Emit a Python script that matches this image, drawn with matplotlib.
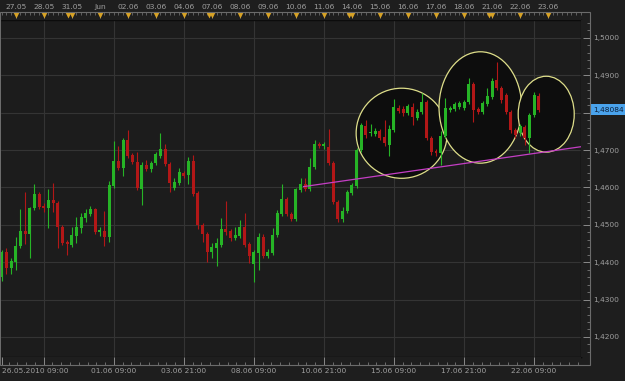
import matplotlib
matplotlib.use('Agg')
import matplotlib.pyplot as plt
from matplotlib.patches import Ellipse, Rectangle
from matplotlib.ticker import FixedLocator, MultipleLocator, FuncFormatter
import numpy as np

W, H = 625, 381

# 4h candles, EURUSD-like quotes
opens = [
    1.4360, 1.4428, 1.4385, 1.4401, 1.4443, 1.4483, 1.4475, 1.4545, 1.4582, 1.4550,
    1.4545, 1.4566, 1.4558, 1.4494, 1.4454, 1.4446, 1.4470, 1.4492, 1.4519, 1.4529,
    1.4542, 1.4481, 1.4483, 1.4467, 1.4604, 1.4670, 1.4652, 1.4727, 1.4687, 1.4668,
    1.4596, 1.4660, 1.4649, 1.4665, 1.4684, 1.4703, 1.4662, 1.4599, 1.4612, 1.4638,
    1.4633, 1.4670, 1.4585, 1.4500, 1.4475, 1.4428, 1.4438, 1.4446, 1.4489, 1.4483,
    1.4465, 1.4470, 1.4494, 1.4448, 1.4395, 1.4425, 1.4467, 1.4417, 1.4425, 1.4473,
    1.4529, 1.4569, 1.4529, 1.4516, 1.4593, 1.4609, 1.4596, 1.4654, 1.4716, 1.4712,
    1.4708, 1.4665, 1.4561, 1.4516, 1.4537, 1.4585, 1.4604, 1.4700, 1.4764, 1.4745,
    1.4743, 1.4751, 1.4735, 1.4714, 1.4754, 1.4813, 1.4810, 1.4799, 1.4815, 1.4786,
    1.4802, 1.4829, 1.4733, 1.4697, 1.4692, 1.4738, 1.4807, 1.4810, 1.4815, 1.4813,
    1.4829, 1.4876, 1.4810, 1.4802, 1.4823, 1.4842, 1.4887, 1.4866, 1.4848, 1.4802,
    1.4754, 1.4746, 1.4761, 1.4733, 1.4794, 1.4845]

highs = [
    1.4433, 1.4438, 1.4412, 1.4467, 1.4542, 1.4588, 1.4547, 1.4609, 1.4588, 1.4558,
    1.4596, 1.4612, 1.4563, 1.4500, 1.4459, 1.4494, 1.4521, 1.4532, 1.4542, 1.4550,
    1.4545, 1.4494, 1.4537, 1.4617, 1.4724, 1.4711, 1.4733, 1.4754, 1.4692, 1.4695,
    1.4668, 1.4673, 1.4670, 1.4695, 1.4746, 1.4716, 1.4668, 1.4625, 1.4652, 1.4643,
    1.4681, 1.4687, 1.4590, 1.4505, 1.4481, 1.4451, 1.4465, 1.4519, 1.4563, 1.4489,
    1.4494, 1.4513, 1.4532, 1.4454, 1.4433, 1.4478, 1.4475, 1.4435, 1.4492, 1.4540,
    1.4609, 1.4574, 1.4535, 1.4599, 1.4625, 1.4625, 1.4679, 1.4727, 1.4722, 1.4722,
    1.4756, 1.4670, 1.4566, 1.4547, 1.4593, 1.4612, 1.4706, 1.4772, 1.4780, 1.4769,
    1.4759, 1.4756, 1.4780, 1.4767, 1.4837, 1.4821, 1.4818, 1.4823, 1.4826, 1.4810,
    1.4853, 1.4834, 1.4738, 1.4703, 1.4751, 1.4840, 1.4818, 1.4829, 1.4831, 1.4834,
    1.4893, 1.4882, 1.4815, 1.4831, 1.4866, 1.4893, 1.4936, 1.4871, 1.4853, 1.4807,
    1.4759, 1.4769, 1.4767, 1.4799, 1.4856, 1.4853]

lows = [
    1.4349, 1.4368, 1.4368, 1.4379, 1.4438, 1.4448, 1.4412, 1.4540, 1.4542, 1.4535,
    1.4492, 1.4535, 1.4438, 1.4446, 1.4420, 1.4440, 1.4451, 1.4478, 1.4508, 1.4524,
    1.4475, 1.4470, 1.4443, 1.4454, 1.4599, 1.4646, 1.4630, 1.4679, 1.4662, 1.4593,
    1.4553, 1.4643, 1.4641, 1.4660, 1.4679, 1.4657, 1.4588, 1.4593, 1.4607, 1.4625,
    1.4609, 1.4577, 1.4489, 1.4454, 1.4401, 1.4412, 1.4390, 1.4440, 1.4473, 1.4456,
    1.4459, 1.4465, 1.4440, 1.4398, 1.4347, 1.4379, 1.4412, 1.4412, 1.4420, 1.4467,
    1.4524, 1.4524, 1.4510, 1.4510, 1.4588, 1.4590, 1.4590, 1.4649, 1.4706, 1.4703,
    1.4660, 1.4555, 1.4508, 1.4508, 1.4532, 1.4580, 1.4599, 1.4695, 1.4733, 1.4738,
    1.4738, 1.4727, 1.4711, 1.4684, 1.4749, 1.4799, 1.4791, 1.4794, 1.4767, 1.4780,
    1.4797, 1.4727, 1.4687, 1.4684, 1.4660, 1.4733, 1.4802, 1.4805, 1.4810, 1.4807,
    1.4823, 1.4775, 1.4796, 1.4796, 1.4818, 1.4837, 1.4861, 1.4826, 1.4796, 1.4746,
    1.4733, 1.4738, 1.4714, 1.4692, 1.4788, 1.4802]

closes = [
    1.4428, 1.4385, 1.4403, 1.4443, 1.4483, 1.4475, 1.4545, 1.4582, 1.4547, 1.4545,
    1.4566, 1.4558, 1.4494, 1.4451, 1.4448, 1.4473, 1.4494, 1.4521, 1.4532, 1.4542,
    1.4481, 1.4486, 1.4467, 1.4607, 1.4670, 1.4652, 1.4727, 1.4684, 1.4668, 1.4599,
    1.4660, 1.4649, 1.4665, 1.4689, 1.4703, 1.4662, 1.4612, 1.4615, 1.4641, 1.4630,
    1.4670, 1.4582, 1.4500, 1.4475, 1.4428, 1.4440, 1.4451, 1.4489, 1.4481, 1.4465,
    1.4473, 1.4494, 1.4446, 1.4417, 1.4428, 1.4467, 1.4417, 1.4428, 1.4473, 1.4532,
    1.4569, 1.4529, 1.4516, 1.4596, 1.4609, 1.4596, 1.4654, 1.4716, 1.4711, 1.4715,
    1.4665, 1.4561, 1.4516, 1.4537, 1.4588, 1.4607, 1.4700, 1.4767, 1.4741, 1.4749,
    1.4751, 1.4733, 1.4719, 1.4756, 1.4815, 1.4805, 1.4799, 1.4818, 1.4788, 1.4802,
    1.4829, 1.4733, 1.4695, 1.4692, 1.4738, 1.4813, 1.4813, 1.4823, 1.4826, 1.4829,
    1.4876, 1.4807, 1.4802, 1.4826, 1.4845, 1.4884, 1.4866, 1.4834, 1.4802, 1.4754,
    1.4741, 1.4764, 1.4733, 1.4794, 1.4848, 1.48084]

# bottom time axis (candle index -> label)
bottom_ticks = [0, 9, 24, 39, 54, 69, 84, 99, 114]
bottom_labels = ['26.05.2010 09:00', '', '01.06 09:00', '03.06 21:00', '08.06 09:00',
                 '10.06 21:00', '15.06 09:00', '17.06 21:00', '22.06 09:00']

# top day ruler
day_ticks = [3, 9, 15, 21, 27, 33, 39, 45, 51, 57, 63, 69, 75, 81, 87, 93, 99, 105, 111, 117]
day_labels = ['27.05', '28.05', '31.05', 'Jun', '02.06', '03.06', '04.06', '07.06', '08.06',
              '09.06', '10.06', '11.06', '14.06', '15.06', '16.06', '17.06', '18.06', '21.06',
              '22.06', '23.06']
monday_ticks = [15, 45, 75, 105]

# right price scale (1,4800 sits under the current-price box)
price_ticks = [1.42, 1.43, 1.44, 1.45, 1.46, 1.47, 1.48, 1.49, 1.50]
price_labels = ['1,4200', '1,4300', '1,4400', '1,4500', '1,4600', '1,4700', '', '1,4900', '1,5000']

# annotations drawn on the chart
ellipse_x = [85.65, 102.5, 116.6]
ellipse_y = [1.4745, 1.4814, 1.4796]
ellipse_w = [19.5, 17.7, 12.0]
ellipse_h = [0.0241, 0.0298, 0.0203]

trend_x = [64.5, 124.05]
trend_y = [1.4602, 1.4709]

last_price = 1.48084

XLIM = (-0.364, 124.05)
YLIM = (1.41464, 1.5048)

BG = '#1e1e1e'
PLOT_BG = '#1c1c1c'
GRID = '#343434'
FRAME = '#6b6b6b'
TXT = '#9e9e9e'
GREEN = '#26b426'
RED = '#b21717'
FS = 5.4


def px_rect(x0, y0, x1, y1):
    return [x0 / W, 1 - y1 / H, (x1 - x0) / W, (y1 - y0) / H]


def strip(ax):
    ax.set_facecolor(BG)
    for s in ax.spines.values():
        s.set_visible(False)


fig = plt.figure(figsize=(W / 100, H / 100), dpi=100, facecolor=BG)

ax = fig.add_axes(px_rect(0, 20, 581, 357))
axt = fig.add_axes(px_rect(0, 11.7, 581, 20))
axb = fig.add_axes(px_rect(0, 357, 581, 365))
axr = fig.add_axes(px_rect(581, 20, 590, 357))

# main plot
ax.set_facecolor(PLOT_BG)
ax.set_xlim(*XLIM)
ax.set_ylim(*YLIM)
ax.set_xticks(bottom_ticks[1:])
ax.set_yticks(price_ticks)
ax.tick_params(length=0, labelbottom=False, labelleft=False)
ax.grid(True, color=GRID, lw=0.8)
ax.set_axisbelow(True)
for s in ax.spines.values():
    s.set_color('#0c0c0c')
    s.set_linewidth(1.0)

for cx, cy, w, h in zip(ellipse_x, ellipse_y, ellipse_w, ellipse_h):
    ax.add_patch(Ellipse((cx, cy), w, h, fc='#0d0d0d', ec='#dede8a', lw=0.9, zorder=2))

x = np.arange(len(opens))
o = np.array(opens)
c = np.array(closes)
cols = [GREEN if cc >= oo else RED for oo, cc in zip(o, c)]
ax.vlines(x, lows, highs, colors=cols, lw=0.8, zorder=3)
body_lo = np.minimum(o, c)
body_h = np.maximum(np.abs(c - o), 0.0003)
ax.bar(x, body_h, bottom=body_lo, width=0.64, color=cols, lw=0, zorder=4)

ax.plot(trend_x, trend_y, color='#c43ec4', lw=0.9, zorder=5, solid_capstyle='butt')

# top day ruler
strip(axt)
axt.set_xlim(*XLIM)
axt.set_ylim(0, 1)
axt.xaxis.tick_top()
axt.xaxis.set_major_locator(FixedLocator(day_ticks))
axt.xaxis.set_minor_locator(MultipleLocator(1))
axt.set_xticklabels(day_labels)
axt.tick_params(axis='x', which='major', direction='in', length=4.5, width=0.6,
                color='#8a8a8a', labelcolor=TXT, labelsize=FS, pad=1.5)
axt.tick_params(axis='x', which='minor', direction='in', length=2, width=0.5, color='#7a7a7a')
axt.set_yticks([])
axt.plot(day_ticks, [0.62] * len(day_ticks), 'v', color='#d8a326', ms=3.8, mec='none', clip_on=False)
axt.plot([m - 0.7 for m in monday_ticks], [0.62] * len(monday_ticks), 'v', color='#d8a326',
         ms=3.8, mec='none', clip_on=False)

# bottom time axis
strip(axb)
axb.set_xlim(*XLIM)
axb.set_ylim(0, 1)
axb.xaxis.set_major_locator(FixedLocator(bottom_ticks))
axb.xaxis.set_minor_locator(MultipleLocator(1.875, offset=1.5))
axb.set_xticklabels(bottom_labels)
axb.tick_params(axis='x', which='major', direction='in', length=5.8, width=0.7,
                color='#8a8a8a', labelcolor=TXT, labelsize=FS, pad=2.5)
axb.tick_params(axis='x', which='minor', direction='in', length=2.2, width=0.6, color='#7a7a7a')
axb.get_xticklabels()[0].set_ha('left')
axb.set_yticks([])

# right price axis
strip(axr)
axr.set_ylim(*YLIM)
axr.set_xlim(0, 1)
axr.yaxis.tick_right()
axr.yaxis.set_major_locator(FixedLocator(price_ticks))
axr.yaxis.set_minor_locator(MultipleLocator(0.002))
axr.set_yticklabels(price_labels)
axr.tick_params(axis='y', which='major', direction='in', length=5, width=0.7,
                color='#8a8a8a', labelcolor=TXT, labelsize=FS, pad=2)
axr.tick_params(axis='y', which='minor', direction='in', length=2.5, width=0.6, color='#7a7a7a')
axr.set_xticks([])
axr.annotate(('%.5f' % last_price).replace('.', ','), xy=(1, last_price),
             xycoords=('axes fraction', 'data'), xytext=(2.2, 0), textcoords='offset points',
             ha='left', va='center', fontsize=FS, color='#0c1f3a', zorder=6,
             annotation_clip=False,
             bbox=dict(boxstyle='square,pad=0.3', fc='#4aa3ec', ec='none'))

# outer frame around plot + strips
fig.add_artist(Rectangle((0, 1 - 365 / H), 590 / W, (365 - 11.7) / H, transform=fig.transFigure,
                         fill=False, ec=FRAME, lw=0.8))

fig.savefig('out.png', dpi=100, facecolor=BG)
